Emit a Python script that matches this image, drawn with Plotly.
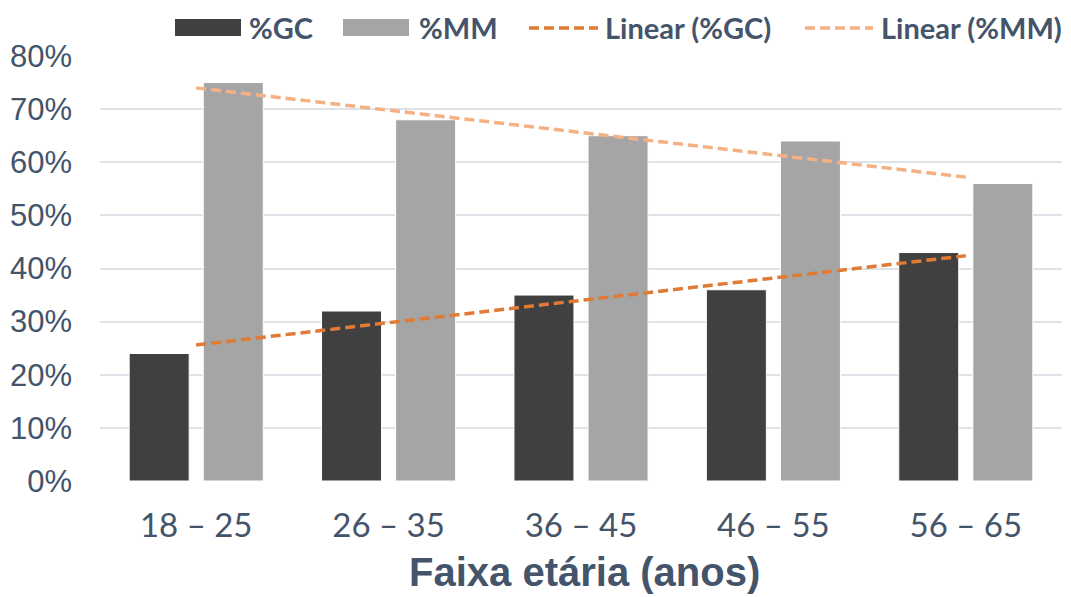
import numpy as np
import plotly.graph_objects as go

# Age groups and shares per group
faixas = ["18 – 25", "26 – 35", "36 – 45", "46 – 55", "56 – 65"]
pct_gc = [24, 32, 35, 36, 43]
pct_mm = [75, 68, 65, 64, 56]
y_ticks = [0, 10, 20, 30, 40, 50, 60, 70, 80]

COL_GC = "#404040"
COL_MM = "#A5A5A5"
COL_TGC = "#E07A35"
COL_TMM = "#F4B183"
TXT = "#44546A"

W, H = 1071, 597
L, R, T, B = 100, 9, 56, 116


def px_x(p):
    return (p - L) / (W - L - R)


def px_y(p):
    return (H - B - p) / (H - T - B)


# least-squares trend lines over the category index
idx = np.arange(len(faixas))
trend_gc = np.polyval(np.polyfit(idx, pct_gc, 1), idx)
trend_mm = np.polyval(np.polyfit(idx, pct_mm, 1), idx)

fig = go.Figure()
fig.add_bar(x=faixas, y=pct_gc, name="%GC", marker=dict(color=COL_GC, line=dict(color="#FFFFFF", width=1)))
fig.add_bar(x=faixas, y=pct_mm, name="%MM", marker=dict(color=COL_MM, line=dict(color="#FFFFFF", width=1)))
fig.add_scatter(x=faixas, y=trend_gc, mode="lines", name="Linear (%GC)",
                line=dict(color=COL_TGC, width=3.5, dash="10px,5px"))
fig.add_scatter(x=faixas, y=trend_mm, mode="lines", name="Linear (%MM)",
                line=dict(color=COL_TMM, width=3.5, dash="10px,5px"))

# legend drawn across the top
shapes = []
annotations = []
legend_items = [
    ("rect", COL_GC, 175, 241, "%GC", 247),
    ("rect", COL_MM, 343, 409, "%MM", 417),
    ("line", COL_TGC, 529, 598, "Linear (%GC)", 603),
    ("line", COL_TMM, 805, 873, "Linear (%MM)", 879),
]
for kind, col, x0, x1, label, tx in legend_items:
    if kind == "rect":
        shapes.append(dict(type="rect", xref="paper", yref="paper",
                           x0=px_x(x0), x1=px_x(x1), y0=px_y(36), y1=px_y(19),
                           fillcolor=col, line=dict(width=0)))
    else:
        shapes.append(dict(type="line", xref="paper", yref="paper",
                           x0=px_x(x0), x1=px_x(x1), y0=px_y(28), y1=px_y(28),
                           line=dict(color=col, width=3.5, dash="10px,5px")))
    annotations.append(dict(text=label, xref="paper", yref="paper", x=px_x(tx), y=px_y(28),
                            xanchor="left", yanchor="middle", showarrow=False,
                            font=dict(family="Lato", size=29, color=TXT, weight="bold")))

annotations.append(dict(text="Faixa etária (anos)", xref="paper", yref="paper",
                        x=px_x(584), y=px_y(572), xanchor="center", yanchor="middle",
                        showarrow=False,
                        font=dict(family="Liberation Sans", size=40, color=TXT, weight="bold")))

fig.update_layout(
    width=W, height=H,
    margin=dict(l=L, r=R, t=T, b=B, autoexpand=False),
    paper_bgcolor="white", plot_bgcolor="white",
    barmode="group", bargap=0.23, bargroupgap=0.19,
    showlegend=False,
    shapes=shapes, annotations=annotations,
)
fig.update_xaxes(
    showgrid=False, zeroline=False, showline=False, ticks="",
    tickfont=dict(family="Lato", size=33, color=TXT),
    ticklabelstandoff=22,
)
fig.update_yaxes(
    range=[0, 80], tickvals=y_ticks, ticktext=[f"{v}%" for v in y_ticks],
    showgrid=True, gridcolor="#DEE2E9", gridwidth=1.5,
    zeroline=False, showline=False, ticks="",
    tickfont=dict(family="Liberation Sans", size=31, color=TXT),
    ticklabelstandoff=27,
)

fig.write_html("out.html")
